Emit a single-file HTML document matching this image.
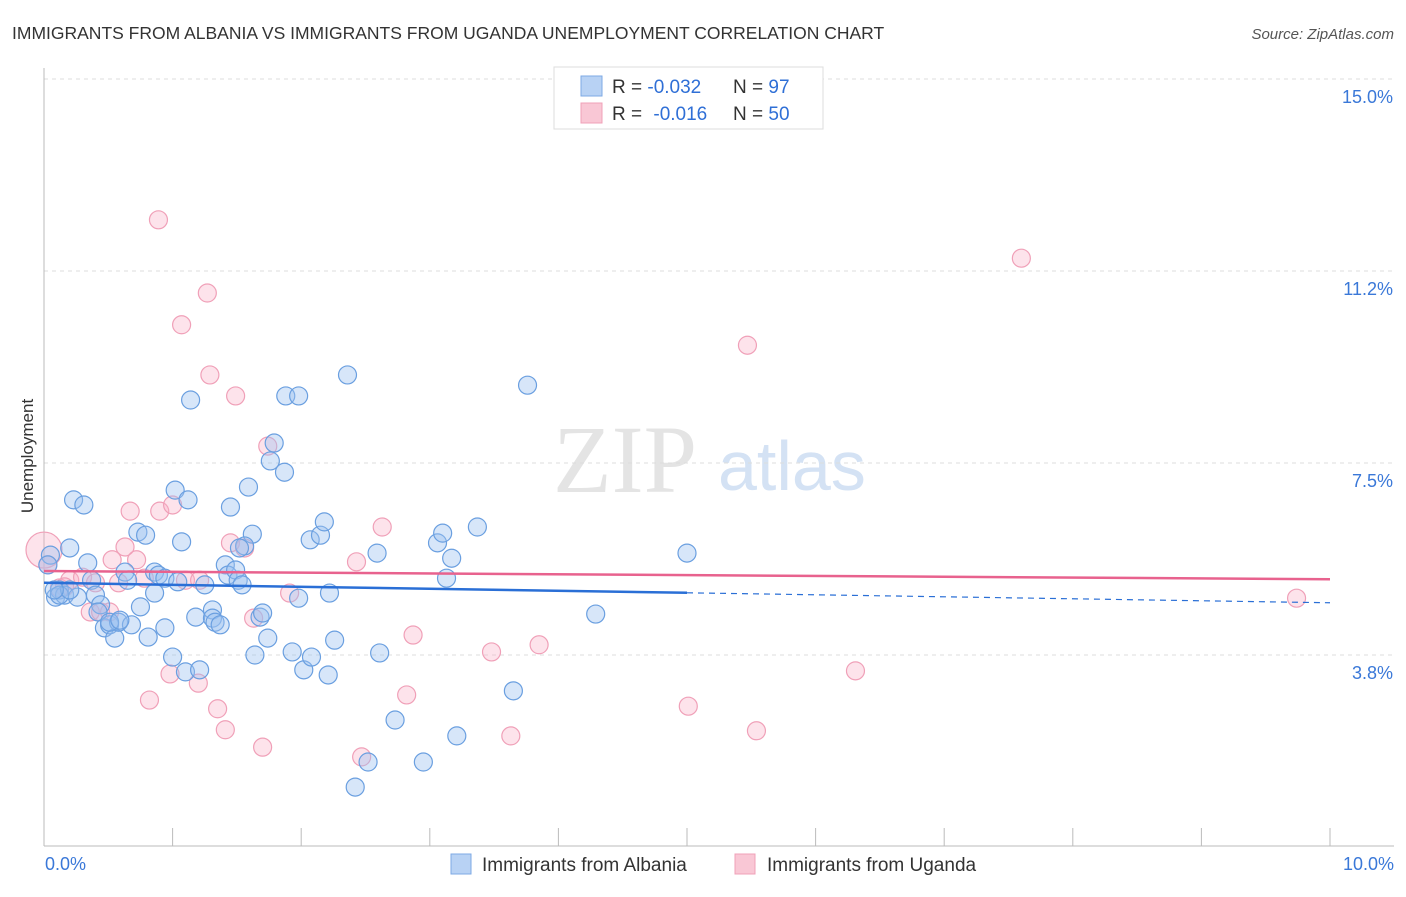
<!DOCTYPE html>
<html><head><meta charset="utf-8"><style>
body{margin:0;background:#fff;font-family:"Liberation Sans",sans-serif;}
</style></head><body>
<svg width="1406" height="892" xmlns="http://www.w3.org/2000/svg" id="chart">
<text x="12" y="39" font-size="17.5" fill="#333">IMMIGRANTS FROM ALBANIA VS IMMIGRANTS FROM UGANDA UNEMPLOYMENT CORRELATION CHART</text>
<text x="1394" y="39" font-size="15" fill="#555" font-style="italic" text-anchor="end">Source: ZipAtlas.com</text>
<text x="33" y="456" font-size="17" fill="#333" text-anchor="middle" transform="rotate(-90 33 456)">Unemployment</text>
<g>
<text x="553" y="492" font-size="96" font-family="Liberation Serif,serif" fill="#e4e4e4">ZIP</text>
<text x="718" y="490" font-size="70" fill="#d4e2f4">atlas</text>
</g>
<g id="grid"></g><g id="axes"></g><g id="points"></g><g id="trends"></g>
<g>
<rect x="554" y="67" width="269" height="62" fill="#fff" stroke="#ddd"/>
<rect x="581" y="76" width="21" height="20" fill="#b8d2f4" stroke="#7ea9e4"/>
<rect x="581" y="103" width="21" height="20" fill="#f9c7d5" stroke="#f0a0b8"/>
<text x="612" y="93" font-size="19" fill="#333">R = <tspan fill="#2f6fd6">-0.032</tspan><tspan x="733">N = </tspan><tspan fill="#2f6fd6">97</tspan></text>
<text x="612" y="120" font-size="19" fill="#333">R = <tspan fill="#2f6fd6" dx="6">-0.016</tspan><tspan x="733">N = </tspan><tspan fill="#2f6fd6">50</tspan></text>
</g>
<g>
<rect x="451" y="854" width="20" height="20" fill="#b8d2f4" stroke="#7ea9e4"/>
<text x="482" y="871" font-size="19" fill="#333">Immigrants from Albania</text>
<rect x="735" y="854" width="20" height="20" fill="#f9c7d5" stroke="#f0a0b8"/>
<text x="767" y="871" font-size="19" fill="#333">Immigrants from Uganda</text>
</g>
</svg>
<script>
const yTicks=[3.75,7.5,11.25,15];
const yTickLabels=["3.8%","7.5%","11.2%","15.0%"];
const xTickLabels=["0.0%","10.0%"];
const albaniaX=[.05,.03,.09,.12,.16,.20,.23,.31,.26,.34,.37,.40,.44,.42,.47,.51,.55,.58,.63,.65,.68,.73,.75,.79,.81,.86,.86,.89,.94,.94,1.00,1.02,1.04,1.07,1.10,1.12,1.14,1.18,1.21,1.25,1.31,1.31,1.33,1.37,1.41,1.43,1.49,1.51,1.54,1.45,1.59,1.62,1.56,1.64,1.68,1.70,1.74,1.76,1.79,1.87,1.88,1.98,1.93,1.98,2.02,2.08,2.07,2.15,2.18,2.21,2.22,2.26,2.36,2.59,2.61,2.73,2.52,2.42,2.95,3.06,3.10,3.17,3.13,3.21,3.37,3.65,3.76,4.29,5.00,.12,.20,.08,.51,.59,1.52];
const albaniaY=[5.70,5.51,4.88,5.02,4.92,5.84,6.78,6.68,4.88,5.55,5.21,4.92,4.73,4.59,4.28,4.34,4.08,4.39,5.37,5.21,4.34,6.15,4.69,6.09,4.10,4.96,5.37,5.31,5.25,4.28,3.71,6.97,5.18,5.96,3.42,6.78,8.73,4.49,3.46,5.12,4.63,4.47,4.39,4.34,5.51,5.31,5.41,5.21,5.12,6.64,7.03,6.11,5.88,3.75,4.49,4.57,4.08,7.54,7.89,7.32,8.81,8.81,3.81,4.86,3.46,3.71,6.00,6.09,6.35,3.36,4.96,4.04,9.22,5.74,3.79,2.48,1.66,1.17,1.66,5.94,6.13,5.64,5.25,2.17,6.25,3.05,9.02,4.55,5.74,4.92,5.02,5.02,4.39,4.43,5.84];
const ugandaX=[0,.03,.12,.20,.30,.36,.44,.51,.58,.63,.67,.72,.78,.82,.89,.90,.98,1.00,1.07,1.10,1.20,1.27,1.29,1.35,1.41,1.45,1.49,1.56,1.63,1.70,1.74,1.91,2.43,2.47,2.63,2.82,2.87,3.48,3.63,3.85,5.01,5.47,5.54,6.31,7.60,9.74,.40,.16,.53,1.21];
const ugandaY=[5.80,5.51,5.06,5.21,5.27,4.59,4.59,4.59,5.16,5.86,6.56,5.61,5.25,2.87,12.25,6.56,3.38,6.68,10.20,5.21,3.20,10.82,9.22,2.70,2.29,5.94,8.81,5.84,4.47,1.95,7.83,4.96,5.57,1.76,6.25,2.97,4.14,3.81,2.17,3.95,2.75,9.80,2.27,3.44,11.50,4.86,5.16,5.08,5.61,5.21];
const albaniaTrend=[5.16,4.77];
const ugandaTrend=[5.39,5.23];
const X0=44,X1=1330,Y0=847,PXY=51.2;
const sx=v=>X0+(X1-X0)*v/10, sy=v=>Y0-v*PXY;
const NS="http://www.w3.org/2000/svg";
function mk(tag,attrs,parent){const e=document.createElementNS(NS,tag);for(const k in attrs)e.setAttribute(k,attrs[k]);parent.appendChild(e);return e;}
const grid=document.getElementById('grid'),axes=document.getElementById('axes'),pts=document.getElementById('points'),tr=document.getElementById('trends');
yTicks.forEach((t,i)=>{
 const l=mk('line',{x1:X0,x2:1394,y1:sy(t),y2:sy(t),stroke:'#ddd','stroke-dasharray':'4,4'},grid);
 
 
 const tx=mk('text',{x:1393,y:sy(t)+24,'font-size':18,fill:'#3a78d8','text-anchor':'end'},axes);
 tx.textContent=yTickLabels[i];
 
 
});
const ax=mk('line',{x1:X0,x2:X0,y1:68,y2:846,stroke:'#bbb'},axes);


const bx=mk('line',{x1:X0,x2:1394,y1:846,y2:846,stroke:'#bbb'},axes);


for(let i=0;i<=10;i++){
 const t=mk('line',{x1:sx(i),x2:sx(i),y1:828,y2:846,stroke:'#bbb'},axes);
 
 
}
[[0,'start',45],[10,'end',1394]].forEach((d,i)=>{
 const t=mk('text',{x:d[2],y:870,'font-size':18,fill:'#3a78d8','text-anchor':d[1]},axes);
 t.textContent=xTickLabels[i];
 
 
});
ugandaX.forEach((x,i)=>{
 const c=mk('circle',{cx:sx(x),cy:sy(ugandaY[i]),r:i===0?18:9,fill:'rgba(248,175,198,0.35)',stroke:'#f0a0b8','stroke-width':1.2},pts);
 
 
});
albaniaX.forEach((x,i)=>{
 const c=mk('circle',{cx:sx(x),cy:sy(albaniaY[i]),r:9,fill:'rgba(155,192,240,0.4)',stroke:'#6a9fe0','stroke-width':1.2},pts);
 
 
});
const am=albaniaTrend[0]+(albaniaTrend[1]-albaniaTrend[0])*0.5;
const t1=mk('line',{x1:sx(0),y1:sy(albaniaTrend[0]),x2:sx(5),y2:sy(am),stroke:'#2a6fd6','stroke-width':2.5},tr);


const t2=mk('line',{x1:sx(5),y1:sy(am),x2:sx(10),y2:sy(albaniaTrend[1]),stroke:'#2a6fd6','stroke-width':1.2,'stroke-dasharray':'6,5'},tr);


const t3=mk('line',{x1:sx(0),y1:sy(ugandaTrend[0]),x2:sx(10),y2:sy(ugandaTrend[1]),stroke:'#e8628e','stroke-width':2.5},tr);


</script>
</body></html>
